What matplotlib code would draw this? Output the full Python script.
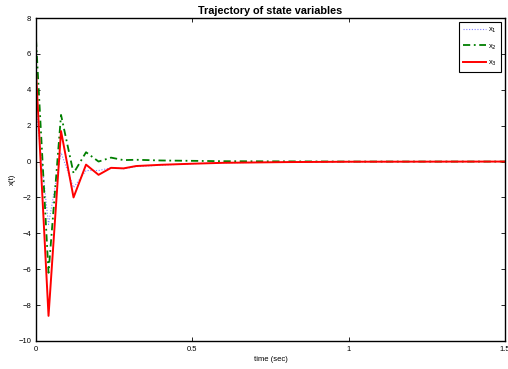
import numpy as np
import matplotlib
matplotlib.use("Agg")
import matplotlib.pyplot as plt

plt.rcParams['font.family'] = ['Liberation Sans', 'DejaVu Sans']

# time points and state values
t = [0, 0.04, 0.08, 0.12, 0.16, 0.20, 0.24, 0.28, 0.32, 0.40, 0.50, 0.60, 0.80, 1.0, 1.5]
x1 = [3.0, -3.5, 0.5, -1.45, -0.5, -0.5, -0.35, -0.4, -0.28, -0.2, -0.12, -0.07, -0.03, -0.01, 0.0]
x2 = [6.8, -6.2, 2.6, -0.65, 0.52, 0.0, 0.22, 0.08, 0.1, 0.06, 0.04, 0.02, 0.01, 0.0, 0.0]
x3 = [5.0, -8.6, 1.7, -2.0, -0.17, -0.74, -0.35, -0.38, -0.25, -0.18, -0.12, -0.07, -0.03, -0.01, 0.0]

fig = plt.figure(figsize=(5.08, 3.69), dpi=100)
ax = fig.add_axes([0.0709, 0.0759, 0.9232, 0.8753])

ax.plot(t, x1, color='#8080ff', lw=0.8, dashes=(1, 1.5), label='x$_1$')
ax.plot(t, x2, color='#007f00', lw=1.3, dashes=(4, 2, 1, 2), label='x$_2$')
ax.plot(t, x3, '-', color='red', lw=1.4, label='x$_3$')

ax.set_xlim(0, 1.5)
ax.set_ylim(-10, 8)
ax.set_xticks([0, 0.5, 1, 1.5])
ax.set_xticklabels(['0', '0.5', '1', '1.5'])
ax.set_yticks(np.arange(-10, 9, 2))
ax.tick_params(direction='in', top=True, right=True, labelsize=5.5, length=3, width=0.6)
for s in ax.spines.values():
    s.set_linewidth(1.0)

ax.set_title('Trajectory of state variables', fontsize=7.8, fontweight='bold', pad=3)
ax.set_xlabel('time (sec)', fontsize=5.5, labelpad=2)
ax.set_ylabel('x(t)', fontsize=5.5, labelpad=2)

leg = ax.legend(loc='upper right', fontsize=5.5, fancybox=False, edgecolor='black',
                framealpha=1, handlelength=3.0, borderpad=0.5, labelspacing=0.9,
                handletextpad=0.3, borderaxespad=0.5)
leg.get_frame().set_linewidth(0.8)

fig.savefig('out.png', dpi=100)
